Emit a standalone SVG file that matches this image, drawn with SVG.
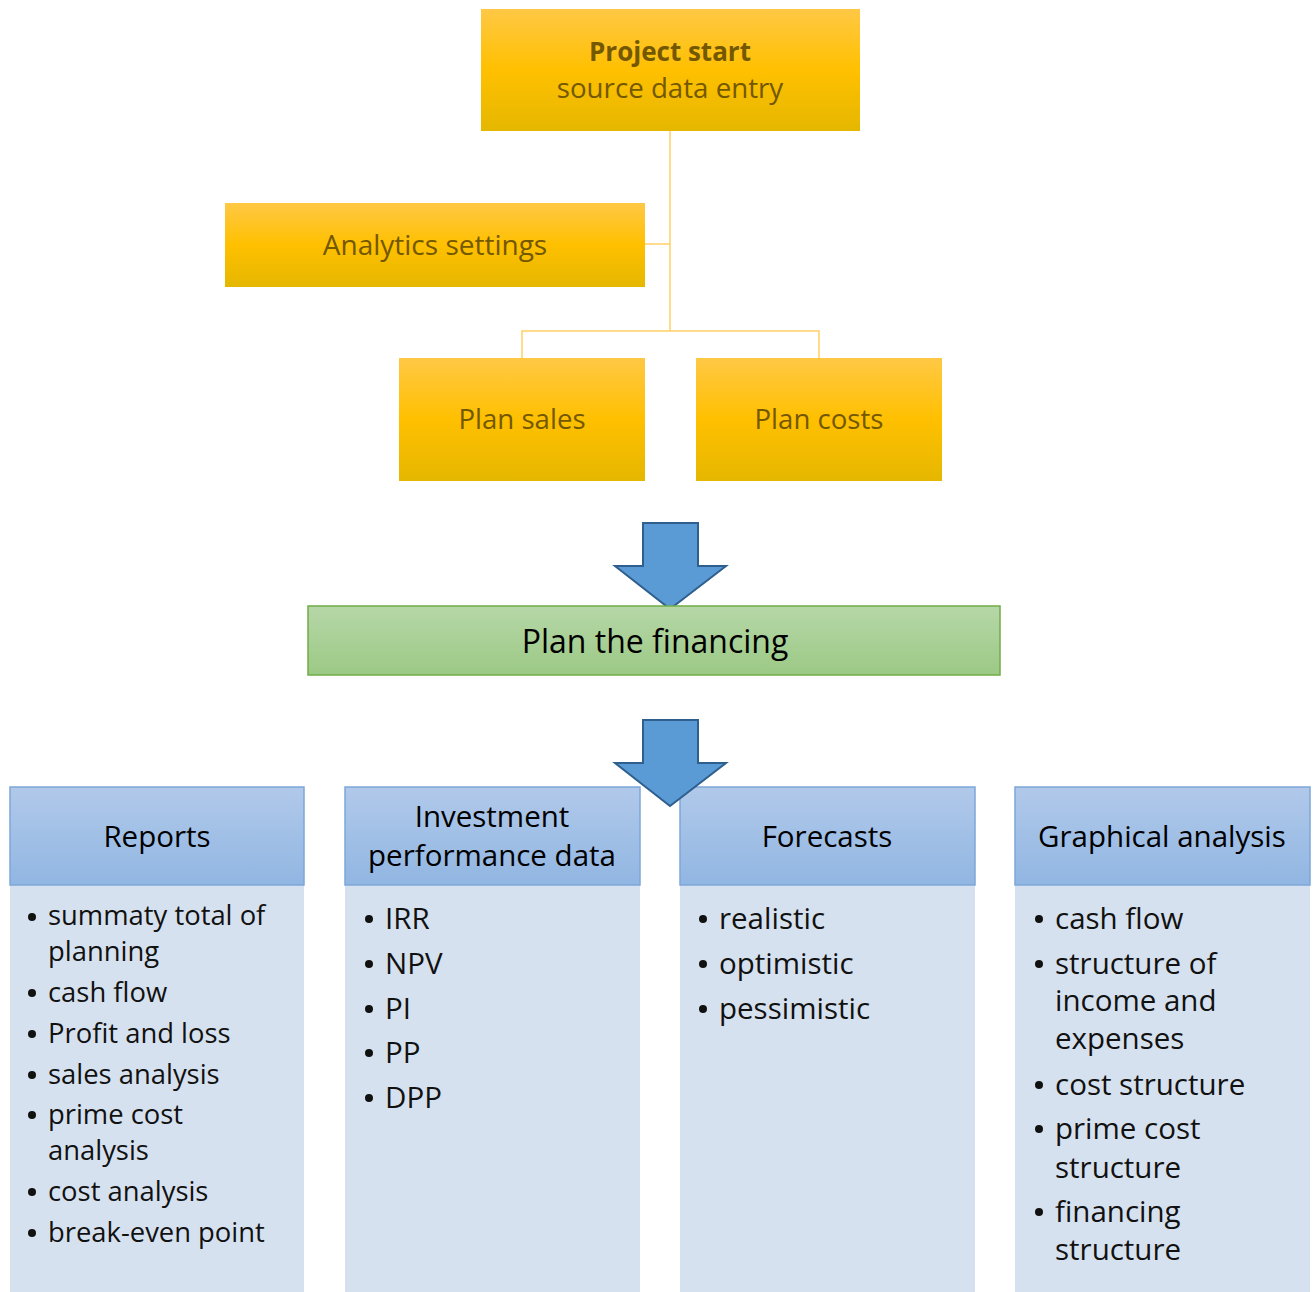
<svg xmlns="http://www.w3.org/2000/svg" width="1314" height="1292" viewBox="0 0 1314 1292">
<defs>
<linearGradient id="gold" x1="0" y1="0" x2="0" y2="1">
<stop offset="0" stop-color="#FFC845"/>
<stop offset="0.5" stop-color="#FFC000"/>
<stop offset="1" stop-color="#E5B700"/>
</linearGradient>
<linearGradient id="green" x1="0" y1="0" x2="0" y2="1">
<stop offset="0" stop-color="#B6D7A8"/>
<stop offset="1" stop-color="#9CC985"/>
</linearGradient>
<linearGradient id="blue" x1="0" y1="0" x2="0" y2="1">
<stop offset="0" stop-color="#B1C9EA"/>
<stop offset="1" stop-color="#91B6E2"/>
</linearGradient>
<path id="bigarrow" d="M-27,0 H28 V43 H56 L0,86 L-55,43 H-27 Z"/>
</defs>
<style>
.gold{fill:url(#gold);}
.gt{font-family:"Open Sans","Liberation Sans",sans-serif;fill:#735800;text-anchor:middle;}
.conn{fill:none;stroke:#FFCF66;stroke-width:1.5;}
.arrow{fill:#5B9BD5;stroke:#2F5F8F;stroke-width:2;}
.hdr{fill:url(#blue);stroke:#7EA6D9;stroke-width:1.5;}
.body{fill:#D6E1EF;}
.ht{font-family:"Open Sans","Liberation Sans",sans-serif;font-size:29.5px;fill:#000;text-anchor:middle;}
.lt{font-family:"Open Sans","Liberation Sans",sans-serif;font-size:29.5px;fill:#111;}
.lr{font-size:27.4px;}
</style>
<rect width="1314" height="1292" fill="#FFFFFF"/>
<g id="connectors">
<path class="conn" d="M670,131 V331 M645,244 H670 M522,358 V331 H819 V358"/>
</g>
<g id="project-start">
<rect class="gold" x="481" y="9" width="379" height="122"/>
<text class="gt" x="670" y="61" font-size="26" font-weight="bold">Project start</text>
<text class="gt" x="670" y="98" font-size="27.7">source data entry</text>
</g>
<g id="analytics-settings">
<rect class="gold" x="225" y="203" width="420" height="84"/>
<text class="gt" x="435" y="255" font-size="28">Analytics settings</text>
</g>
<g id="plan-sales">
<rect class="gold" x="399" y="358" width="246" height="123"/>
<text class="gt" x="522" y="429" font-size="27.6">Plan sales</text>
</g>
<g id="plan-costs">
<rect class="gold" x="696" y="358" width="246" height="123"/>
<text class="gt" x="819" y="429" font-size="27.6">Plan costs</text>
</g>
<g id="arrow1">
<use href="#bigarrow" class="arrow" x="670" y="523"/>
</g>
<g id="plan-financing">
<rect x="308" y="606" width="692" height="69" fill="url(#green)" stroke="#70AD47" stroke-width="1.5"/>
<text x="655" y="653" font-family="Open Sans, Liberation Sans, sans-serif" font-size="32" fill="#000" text-anchor="middle">Plan the financing</text>
</g>
<g id="reports">
<rect class="body" x="10" y="885" width="294" height="407"/>
<rect class="hdr" x="10" y="787" width="294" height="98"/>
<text class="ht" x="157" y="847">Reports</text>
<g class="lt lr">
<circle cx="32" cy="917" r="4" fill="#111"/><text x="48" y="925">summaty total of</text>
<text x="48" y="961">planning</text>
<circle cx="32" cy="993" r="4" fill="#111"/><text x="48" y="1002">cash flow</text>
<circle cx="32" cy="1034" r="4" fill="#111"/><text x="48" y="1043">Profit and loss</text>
<circle cx="32" cy="1075" r="4" fill="#111"/><text x="48" y="1084">sales analysis</text>
<circle cx="32" cy="1115" r="4" fill="#111"/><text x="48" y="1124">prime cost</text>
<text x="48" y="1160">analysis</text>
<circle cx="32" cy="1192" r="4" fill="#111"/><text x="48" y="1201">cost analysis</text>
<circle cx="32" cy="1233" r="4" fill="#111"/><text x="48" y="1242">break-even point</text>
</g>
</g>
<g id="investment">
<rect class="body" x="345" y="885" width="295" height="407"/>
<rect class="hdr" x="345" y="787" width="295" height="98"/>
<text class="ht" x="492" y="827">Investment</text>
<text class="ht" x="492" y="866">performance data</text>
<g class="lt">
<circle cx="369" cy="919" r="4" fill="#111"/><text x="385" y="929">IRR</text>
<circle cx="369" cy="964" r="4" fill="#111"/><text x="385" y="974">NPV</text>
<circle cx="369" cy="1009" r="4" fill="#111"/><text x="385" y="1019">PI</text>
<circle cx="369" cy="1053" r="4" fill="#111"/><text x="385" y="1063">PP</text>
<circle cx="369" cy="1098" r="4" fill="#111"/><text x="385" y="1108">DPP</text>
</g>
</g>
<g id="forecasts">
<rect class="body" x="680" y="885" width="295" height="407"/>
<rect class="hdr" x="680" y="787" width="295" height="98"/>
<text class="ht" x="827" y="847">Forecasts</text>
<g class="lt">
<circle cx="703" cy="919" r="4" fill="#111"/><text x="719" y="929">realistic</text>
<circle cx="703" cy="964" r="4" fill="#111"/><text x="719" y="974">optimistic</text>
<circle cx="703" cy="1009" r="4" fill="#111"/><text x="719" y="1019">pessimistic</text>
</g>
</g>
<g id="graphical">
<rect class="body" x="1015" y="885" width="295" height="407"/>
<rect class="hdr" x="1015" y="787" width="295" height="98"/>
<text class="ht" x="1162" y="847">Graphical analysis</text>
<g class="lt">
<circle cx="1039" cy="919" r="4" fill="#111"/><text x="1055" y="929">cash flow</text>
<circle cx="1039" cy="964" r="4" fill="#111"/><text x="1055" y="974">structure of</text>
<text x="1055" y="1011">income and</text>
<text x="1055" y="1049">expenses</text>
<circle cx="1039" cy="1085" r="4" fill="#111"/><text x="1055" y="1095">cost structure</text>
<circle cx="1039" cy="1129" r="4" fill="#111"/><text x="1055" y="1139">prime cost</text>
<text x="1055" y="1178">structure</text>
<circle cx="1039" cy="1212" r="4" fill="#111"/><text x="1055" y="1222">financing</text>
<text x="1055" y="1260">structure</text>
</g>
</g>
<g id="arrow2">
<use href="#bigarrow" class="arrow" x="670" y="720"/>
</g>
</svg>
